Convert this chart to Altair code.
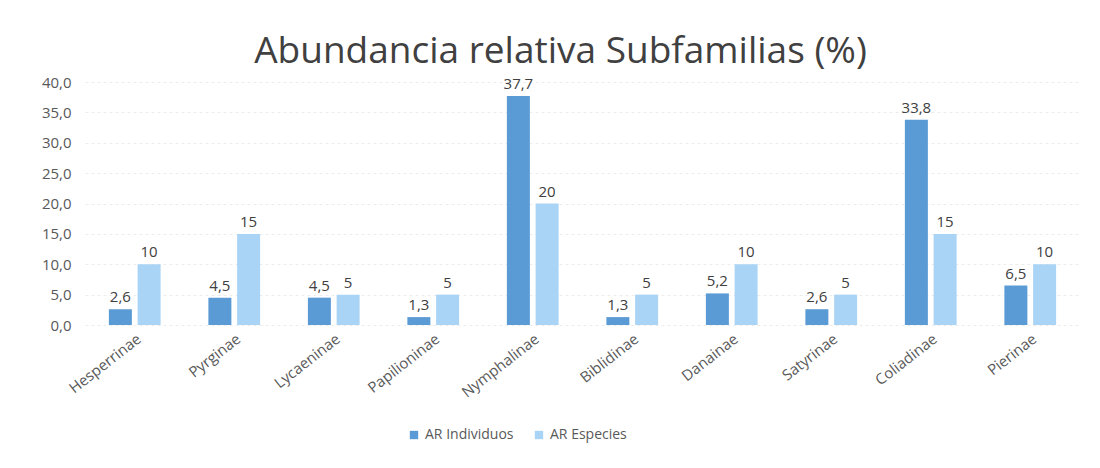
import altair as alt
import pandas as pd

subfamilias = ["Hesperrinae", "Pyrginae", "Lycaeninae", "Papilioninae", "Nymphalinae",
               "Biblidinae", "Danainae", "Satyrinae", "Coliadinae", "Pierinae"]
ar_individuos = [2.6, 4.5, 4.5, 1.3, 37.7, 1.3, 5.2, 2.6, 33.8, 6.5]
ar_especies = [10, 15, 5, 5, 20, 5, 10, 5, 15, 10]
series = ["AR Individuos", "AR Especies"]

rows = []
for s, vi, ve in zip(subfamilias, ar_individuos, ar_especies):
    rows.append({"sub": s, "serie": series[0], "val": vi, "lab": f"{vi:.1f}".replace(".", ",")})
    rows.append({"sub": s, "serie": series[1], "val": ve, "lab": str(ve)})
df = pd.DataFrame(rows)

FONT = "Open Sans"
GRAY = "#595959"

base = alt.Chart(df).encode(
    x=alt.X("sub:N", sort=subfamilias, title=None,
            scale=alt.Scale(paddingInner=0.48, paddingOuter=0.24),
            axis=alt.Axis(labelAngle=-38, labelFontSize=15, labelColor=GRAY, labelFont=FONT,
                          domain=False, ticks=False, labelPadding=6)),
    xOffset=alt.XOffset("serie:N", sort=series, scale=alt.Scale(paddingInner=0.2)),
    y=alt.Y("val:Q", title=None,
            scale=alt.Scale(domain=[0, 40]),
            axis=alt.Axis(values=[0, 5, 10, 15, 20, 25, 30, 35, 40], labelOverlap=False,
                          labelExpr="replace(format(datum.value, '.1f'), '.', ',')",
                          labelFontSize=15, labelColor=GRAY, labelFont=FONT,
                          domain=False, ticks=False, labelPadding=14,
                          gridColor="#ececec", gridDash=[3, 3])),
)

bars = base.mark_bar().encode(
    color=alt.Color("serie:N", sort=series,
                    scale=alt.Scale(domain=series, range=["#5b9bd5", "#a9d4f5"]),
                    legend=alt.Legend(title=None, orient="none", direction="horizontal",
                                      legendX=322, legendY=346, symbolType="square",
                                      symbolSize=70, labelFontSize=14, labelColor=GRAY,
                                      labelFont=FONT, columnPadding=18)),
)

labels = base.mark_text(dy=-12, fontSize=15, color="#404040", font=FONT).encode(
    text="lab:N",
)

chart = (bars + labels).properties(
    width=995, height=243,
    title=alt.TitleParams("Abundancia relativa Subfamilias (%)", fontSize=37, font=FONT,
                          fontWeight="normal", color="#404040", offset=4, dx=-22),
    autosize=alt.AutoSizeParams(type="none"),
    padding={"left": 77, "top": 74, "right": 12, "bottom": 135},
).configure_view(stroke=None)

chart.save("out.html", embed_options={"renderer": "svg", "actions": False})
